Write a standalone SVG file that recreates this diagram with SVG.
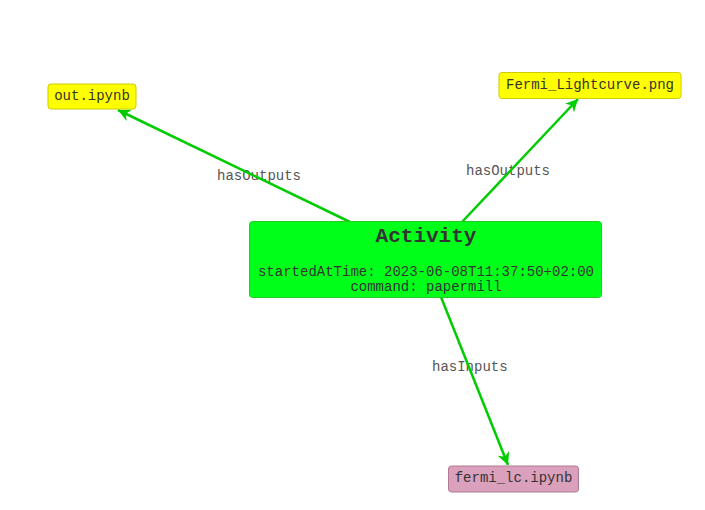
<svg xmlns="http://www.w3.org/2000/svg" width="705" height="510" viewBox="0 0 705 510">
<defs>
<style>
.mono{font-family:"Liberation Mono","Courier New",monospace;}
.lbl{font-size:14px;fill:#555555;}
.ntxt{font-size:14px;fill:#333333;text-anchor:middle;}
.edge{stroke:#00cc00;stroke-width:2.5;fill:none;marker-end:url(#arr);}
</style>
<marker id="arr" viewBox="0 0 10 10" refX="10" refY="5" markerWidth="5" markerHeight="5" markerUnits="strokeWidth" orient="auto">
<path d="M0,0 L10,5 L0,10 L3,5 Z" fill="#00cc00"/>
</marker>
</defs>
<rect width="705" height="510" fill="#ffffff"/>
<g id="edge-labels" class="mono lbl">
<text x="217" y="180">hasOutputs</text>
<text x="466" y="175">hasOutputs</text>
<text x="432" y="371">hasInputs</text>
</g>
<g id="connectors">
<line class="edge" x1="350" y1="222" x2="118" y2="110"/>
<line class="edge" x1="462" y1="222" x2="578" y2="99"/>
<line class="edge" x1="441" y1="297" x2="508" y2="465"/>
</g>
<g id="activity">
<rect x="249.5" y="221.5" width="352" height="76" rx="3" fill="#00ff19" stroke="#22cc22" stroke-width="1"/>
<text class="mono" x="426" y="242" font-size="21" font-weight="bold" fill="#333333" text-anchor="middle">Activity</text>
<text class="mono ntxt" x="426" y="276">startedAtTime: 2023-06-08T11:37:50+02:00</text>
<text class="mono ntxt" x="426" y="291">command: papermill</text>
</g>
<g id="out-ipynb">
<rect x="48" y="84" width="88" height="25" rx="3" fill="#ffff00" stroke="#cccc00" stroke-width="1"/>
<text class="mono ntxt" x="92" y="100">out.ipynb</text>
</g>
<g id="fermi-lightcurve">
<rect x="499" y="72.5" width="182" height="26" rx="3" fill="#ffff00" stroke="#cccc00" stroke-width="1"/>
<text class="mono ntxt" x="590" y="89">Fermi_Lightcurve.png</text>
</g>
<g id="fermi-lc">
<rect x="448.5" y="466" width="130" height="26" rx="3" fill="#dba0bb" stroke="#b07a92" stroke-width="1"/>
<text class="mono ntxt" x="513.5" y="482">fermi_lc.ipynb</text>
</g>
</svg>
